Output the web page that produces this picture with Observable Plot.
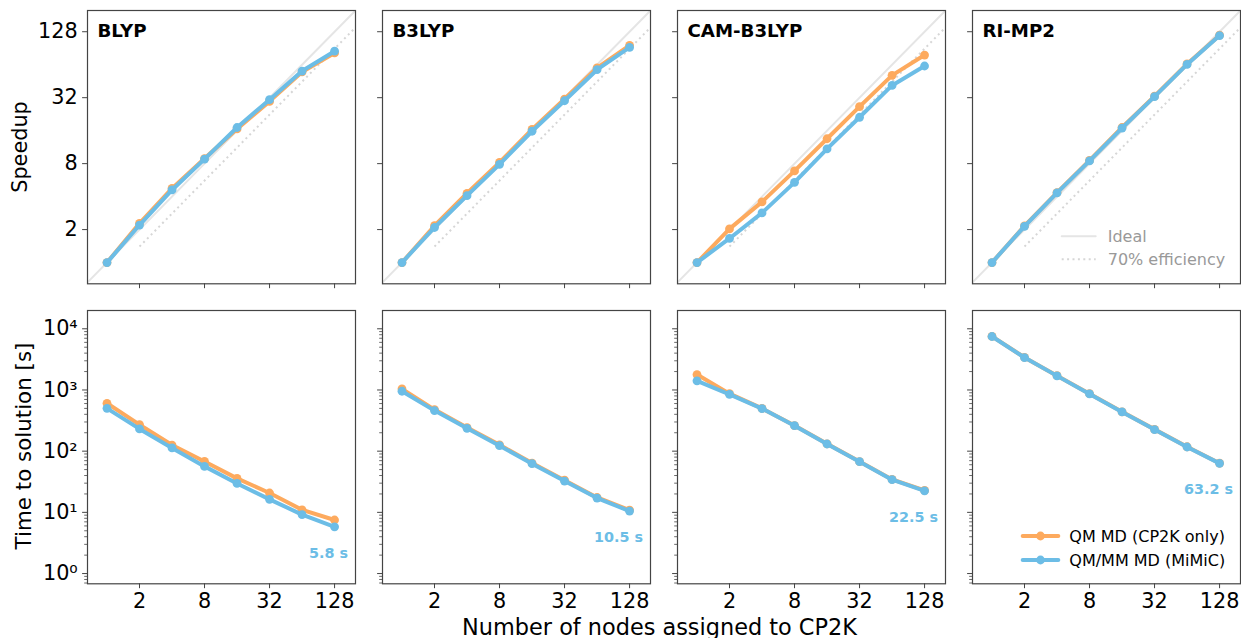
<!DOCTYPE html>
<html>
<head>
<meta charset="utf-8">
<script src="https://cdn.jsdelivr.net/npm/d3@7"></script>
<script src="https://cdn.jsdelivr.net/npm/@observablehq/plot@0.6"></script>
<style>
  html, body { margin: 0; padding: 0; background: #fff; }
  #wrap { position: relative; width: 1241px; height: 638px; overflow: hidden; font-family: "DejaVu Sans", sans-serif; }
  #wrap svg.panel { position: absolute; }
  #overlay { position: absolute; left: 0; top: 0; pointer-events: none; }
</style>
</head>
<body>
<div id="wrap"></div>
<script>
// ---------------- data ----------------
const methods = ["BLYP", "B3LYP", "CAM-B3LYP", "RI-MP2"];
const nodes = [1, 2, 4, 8, 16, 32, 64, 128];
const xTicks = [2, 8, 32, 128];
const speedupTicks = [2, 8, 32, 128];
const timeTicks = [1, 10, 100, 1000, 10000];
const timeTickLabels = ["10\u2070", "10\u00b9", "10\u00b2", "10\u00b3", "10\u2074"];
const seriesNames = ["QM MD (CP2K only)", "QM/MM MD (MiMiC)"];
const refNames = ["Ideal", "70% efficiency"];

// speedup (top row)
const speedupQM_BLYP    = [1, 2.28, 4.75, 8.9, 16.6, 29.6, 55, 82];
const speedupMiMiC_BLYP = [1, 2.2, 4.6, 8.8, 17.1, 30.7, 56, 85];
const speedupQM_B3LYP    = [1, 2.17, 4.29, 8.2, 16.4, 31.1, 60, 96];
const speedupMiMiC_B3LYP = [1, 2.09, 4.08, 7.88, 15.8, 30.0, 57.6, 92];
const speedupQM_CAM    = [1, 2.03, 3.58, 6.87, 13.5, 26.5, 51.2, 78.4];
const speedupMiMiC_CAM = [1, 1.66, 2.84, 5.4, 10.9, 21.2, 41.4, 62.3];
const speedupQM_RIMP2    = [1, 2.16, 4.35, 8.55, 17.1, 33.0, 65, 119];
const speedupMiMiC_RIMP2 = [1, 2.14, 4.32, 8.47, 16.9, 32.7, 64.4, 118];

// time to solution in s (bottom row)
const timeQM_BLYP    = [606, 272, 126, 68, 35.9, 20.7, 11, 7.5];
const timeMiMiC_BLYP = [501, 231, 113, 56.4, 29.7, 16.3, 9.2, 5.8];
const timeQM_B3LYP    = [1042, 478, 243, 127, 64, 33.5, 17.5, 10.9];
const timeMiMiC_B3LYP = [953, 460, 236, 123, 62.4, 32.5, 17.1, 10.5];
const timeQM_CAM    = [1786, 870, 500, 262, 132, 67.5, 34.5, 22.8];
const timeMiMiC_CAM = [1409, 850, 497, 261, 131, 67.3, 34.2, 22.5];
const timeQM_RIMP2    = [7500, 3400, 1710, 870, 440, 227, 118, 63.5];
const timeMiMiC_RIMP2 = [7480, 3390, 1700, 863, 438, 225, 117, 63.2];

const speedupQM = [speedupQM_BLYP, speedupQM_B3LYP, speedupQM_CAM, speedupQM_RIMP2];
const speedupMM = [speedupMiMiC_BLYP, speedupMiMiC_B3LYP, speedupMiMiC_CAM, speedupMiMiC_RIMP2];
const timeQM = [timeQM_BLYP, timeQM_B3LYP, timeQM_CAM, timeQM_RIMP2];
const timeMM = [timeMiMiC_BLYP, timeMiMiC_B3LYP, timeMiMiC_CAM, timeMiMiC_RIMP2];

// reference lines (ideal: y = x, 70 %: y = 0.7 x from 2 nodes on)
const idealExtent = [0.5, 256];
const effExtent = [2, 256];
const efficiency = 0.7;

// ---------------- style ----------------
const ORANGE = "#fdaa5e";
const BLUE = "#6cbde6";
const FRAME = "#444";
const FONT = "DejaVu Sans";
const TICK = 4.9, PAD = 4.9;

const frameLeft = [87, 381.7, 676.7, 971.7];
const frameTop = [10, 310];
const FW = 268, FH = 273.3;
const mL = 90, mR = 12, mT = 12, mB = 45;

const wrap = document.getElementById("wrap");

function minorTicks(lo, hi) {
  const out = [];
  for (let e = -1; e <= 4; e++) for (let m = 2; m <= 9; m++) {
    const v = m * Math.pow(10, e);
    if (v >= lo && v <= hi) out.push(v);
  }
  return out;
}

const xDomain = [0.66, 200];
const ySpeedDomain = [0.64, 200];
const yTimeDomain = [0.68, 19900];

for (let row = 0; row < 2; row++) {
  for (let col = 0; col < 4; col++) {
    const isTop = row === 0;
    const qmVals = isTop ? speedupQM[col] : timeQM[col];
    const mmVals = isTop ? speedupMM[col] : timeMM[col];
    const qmRows = nodes.map((n, i) => ({n, v: qmVals[i]}));
    const mmRows = nodes.map((n, i) => ({n, v: mmVals[i]}));
    const marks = [];
    if (isTop) {
      marks.push(Plot.line(idealExtent.map(n => ({n, v: n})), {x: "n", y: "v", stroke: "#e5e5e5", strokeWidth: 2, clip: true}));
      marks.push(Plot.line(effExtent.map(n => ({n, v: efficiency * n})), {x: "n", y: "v", stroke: "#d6d6d6", strokeWidth: 2, strokeDasharray: "2,3.4", strokeLinecap: "butt", clip: true}));
    }
    marks.push(
      Plot.line(qmRows, {x: "n", y: "v", stroke: ORANGE, strokeWidth: 4}),
      Plot.dot(qmRows, {x: "n", y: "v", r: 4.4, fill: ORANGE}),
      Plot.line(mmRows, {x: "n", y: "v", stroke: BLUE, strokeWidth: 4}),
      Plot.dot(mmRows, {x: "n", y: "v", r: 4.4, fill: BLUE})
    );
    // axes
    marks.push(Plot.axisX(xTicks, {
      tickSize: TICK, tickPadding: PAD, stroke: FRAME,
      tickFormat: isTop ? () => "" : d => String(d), label: null
    }));
    if (isTop) {
      marks.push(Plot.axisY(speedupTicks, {
        tickSize: TICK, tickPadding: PAD, stroke: FRAME,
        tickFormat: col === 0 ? d => String(d) : () => "", label: null
      }));
    } else {
      marks.push(Plot.axisY(minorTicks(yTimeDomain[0], yTimeDomain[1]), {
        tickSize: 2.8, tickPadding: PAD, stroke: FRAME, strokeWidth: 0.8, tickFormat: () => "", label: null
      }));
      marks.push(Plot.axisY(timeTicks, {
        tickSize: TICK, tickPadding: PAD, stroke: FRAME,
        tickFormat: col === 0 ? d => timeTickLabels[timeTicks.indexOf(d)] : () => "", label: null
      }));
    }
    marks.push(Plot.frame({stroke: FRAME, strokeWidth: 1.2}));
    if (isTop) {
      marks.push(Plot.text([methods[col]], {
        frameAnchor: "top-left", dx: 10, dy: 13.3, fontWeight: "bold", fontSize: 18.2, fill: "#000"
      }));
    } else {
      const last = mmRows[mmRows.length - 1];
      marks.push(Plot.text([last], {
        x: "n", y: "v", text: d => `${d.v.toFixed(1)} s`, dx: 13.5, dy: 26.5,
        textAnchor: "end", fill: BLUE, fontWeight: "bold", fontSize: 14.4
      }));
    }
    const svg = Plot.plot({
      width: FW + mL + mR,
      height: FH + mT + mB,
      marginLeft: mL, marginRight: mR, marginTop: mT, marginBottom: mB,
      x: {type: "log", base: 2, domain: xDomain},
      y: isTop ? {type: "log", base: 2, domain: ySpeedDomain} : {type: "log", base: 10, domain: yTimeDomain},
      style: {background: "transparent", overflow: "visible", fontFamily: FONT, fontSize: "20.8px", color: "#000"},
      marks
    });
    svg.classList.add("panel");
    svg.style.left = (frameLeft[col] - mL) + "px";
    svg.style.top = (frameTop[row] - mT) + "px";
    wrap.appendChild(svg);
  }
}

// ---------------- overlay: axis titles and legends ----------------
const NS = "http://www.w3.org/2000/svg";
const ov = document.createElementNS(NS, "svg");
ov.setAttribute("id", "overlay");
ov.setAttribute("width", 1241);
ov.setAttribute("height", 638);
ov.setAttribute("font-family", FONT);
wrap.appendChild(ov);

function addText(str, x, y, opts = {}) {
  const t = document.createElementNS(NS, "text");
  t.textContent = str;
  t.setAttribute("x", 0);
  t.setAttribute("y", 0);
  t.setAttribute("font-size", opts.size || 20.8);
  t.setAttribute("fill", opts.fill || "#000");
  t.setAttribute("text-anchor", opts.anchor || "start");
  t.setAttribute("transform", `translate(${x},${y})` + (opts.rotate ? ` rotate(${opts.rotate})` : ""));
  ov.appendChild(t);
}
function addLine(x1, x2, y, stroke, width, dash) {
  const l = document.createElementNS(NS, "line");
  l.setAttribute("x1", x1); l.setAttribute("x2", x2);
  l.setAttribute("y1", y); l.setAttribute("y2", y);
  l.setAttribute("stroke", stroke); l.setAttribute("stroke-width", width);
  if (dash) l.setAttribute("stroke-dasharray", dash);
  l.setAttribute("stroke-linecap", dash ? "butt" : "round");
  ov.appendChild(l);
}
function addDot(x, y, r, fill) {
  const c = document.createElementNS(NS, "circle");
  c.setAttribute("cx", x); c.setAttribute("cy", y); c.setAttribute("r", r);
  c.setAttribute("fill", fill);
  ov.appendChild(c);
}

addText("Speedup", 26.8, 147, {anchor: "middle", rotate: -90, size: 20.8});
addText("Time to solution [s]", 30.5, 446, {anchor: "middle", rotate: -90, size: 21.4});
addText("Number of nodes assigned to CP2K", 659.5, 634.5, {anchor: "middle", size: 22.4});

// reference-line legend (top right)
addLine(1061.7, 1095.7, 236.3, "#e5e5e5", 2);
addLine(1061.7, 1095.7, 259.3, "#d6d6d6", 2, "2,3.4");
addText(refNames[0], 1107.7, 242.1, {size: 16, fill: "#999"});
addText(refNames[1], 1107.7, 265.1, {size: 16, fill: "#999"});

// series legend (bottom right)
addLine(1022.7, 1058.3, 536, ORANGE, 4);
addDot(1040.5, 536, 4.4, ORANGE);
addText(seriesNames[0], 1069.3, 541.8, {size: 16});
addLine(1022.7, 1058.3, 560, BLUE, 4);
addDot(1040.5, 560, 4.4, BLUE);
addText(seriesNames[1], 1069.3, 565.8, {size: 16});
</script>
</body>
</html>
